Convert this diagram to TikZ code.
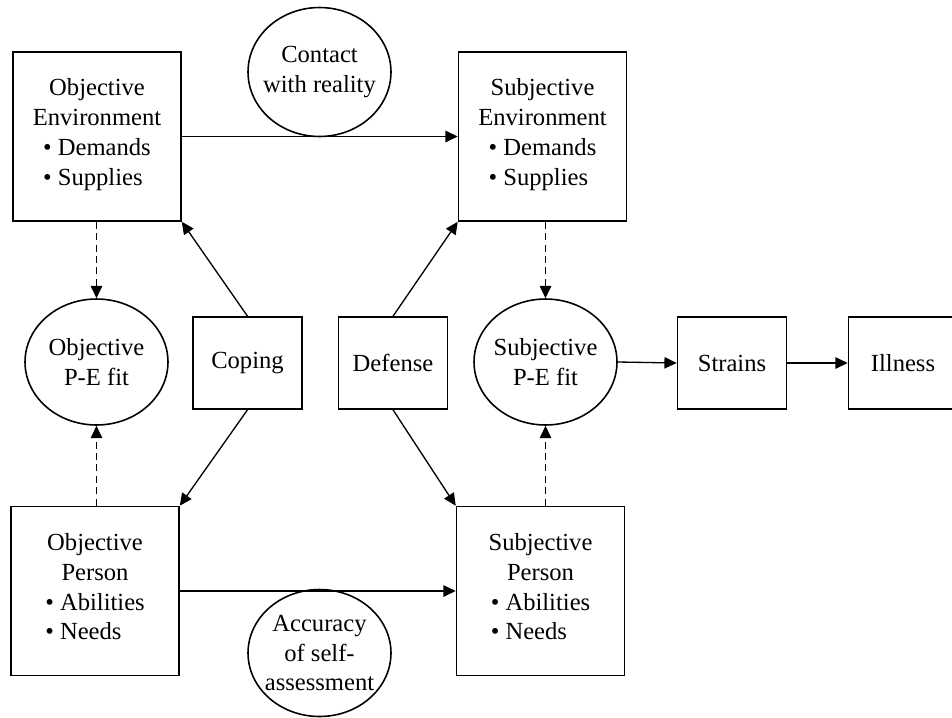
\documentclass[tikz,border=0pt]{standalone}
\usepackage{fontspec}
\setmainfont{Liberation Serif}
\usepackage{tikz}
\usetikzlibrary{shapes.geometric,arrows.meta,positioning,calc}

\begin{document}
\begin{tikzpicture}[
    x=0.02cm, y=-0.02cm,
    every node/.style={font=\fontsize{14}{17}\selectfont},
    big_box/.style={rectangle, draw=black, line width=0.9pt, minimum width=3.36cm, minimum height=3.38cm, align=center, inner sep=0pt},
    small_box/.style={rectangle, draw=black, line width=0.9pt, minimum width=2.18cm, minimum height=1.84cm, align=center, inner sep=0pt},
    fit_ellipse/.style={ellipse, draw=black, line width=0.9pt, minimum width=2.86cm, minimum height=2.52cm, align=center, inner sep=-0.6cm},
    main_arrow/.style={-{Triangle[length=7pt,width=6.5pt]}, line width=0.75pt, color=black},
    dash_arrow/.style={-{Triangle[length=7pt,width=6.5pt]}, line width=0.75pt, dash pattern=on 4pt off 2.5pt, color=black}
]
\useasboundingbox (0,0) rectangle (952,717);

% Environment boxes and contact with reality
\node[big_box] (obj_env) at (97,136.5) {Objective\\Environment\\\begin{tabular}[t]{@{}l@{}}\textbullet{} Demands\\\textbullet{} Supplies\end{tabular}};
\node[big_box] (subj_env) at (542.5,136.5) {Subjective\\Environment\\\begin{tabular}[t]{@{}l@{}}\textbullet{} Demands\\\textbullet{} Supplies\end{tabular}};
\node[fit_ellipse, minimum height=2.58cm] (contact) at (319.5,72) {Contact\\with reality};

% Middle row
\node[fit_ellipse] (obj_fit) at (96.5,362) {Objective\\P-E fit};
\node[small_box] (coping) at (247.5,363) {Coping};
\node[small_box] (defense) at (393,363) {Defense};
\node[fit_ellipse] (subj_fit) at (545.5,362) {Subjective\\P-E fit};
\node[small_box] (strains) at (732,363) {Strains};
\node[small_box] (illness) at (903,363) {Illness};

% Person boxes and accuracy of self-assessment
\node[big_box] (obj_person) at (95,591) {Objective\\Person\\\begin{tabular}[t]{@{}l@{}}\textbullet{} Abilities\\\textbullet{} Needs\end{tabular}};
\node[big_box] (subj_person) at (540.5,591) {Subjective\\Person\\\begin{tabular}[t]{@{}l@{}}\textbullet{} Abilities\\\textbullet{} Needs\end{tabular}};
\node[fit_ellipse, minimum height=2.54cm] (accuracy) at (319.5,653) {Accuracy\\of self-\\assessment};

% Objective to subjective
\draw[main_arrow] (obj_env.east) -- (subj_env.west);
\draw[main_arrow] (obj_person.east) -- (subj_person.west);

% Coping and defense
\draw[main_arrow] (coping.north) -- (obj_env.south east);
\draw[main_arrow] (coping.south) -- (obj_person.north east);
\draw[main_arrow] (defense.north) -- (subj_env.south west);
\draw[main_arrow] (defense.south) -- (subj_person.north west);

% Dashed: components of fit
\draw[dash_arrow] (obj_fit.north |- obj_env.south) -- (obj_fit.north);
\draw[dash_arrow] (obj_fit.south |- obj_person.north) -- (obj_fit.south);
\draw[dash_arrow] (subj_fit.north |- subj_env.south) -- (subj_fit.north);
\draw[dash_arrow] (subj_fit.south |- subj_person.north) -- (subj_fit.south);

% Outcomes
\draw[main_arrow] (subj_fit.east) -- (strains.west);
\draw[main_arrow] (strains.east) -- (illness.west);

\end{tikzpicture}
\end{document}
